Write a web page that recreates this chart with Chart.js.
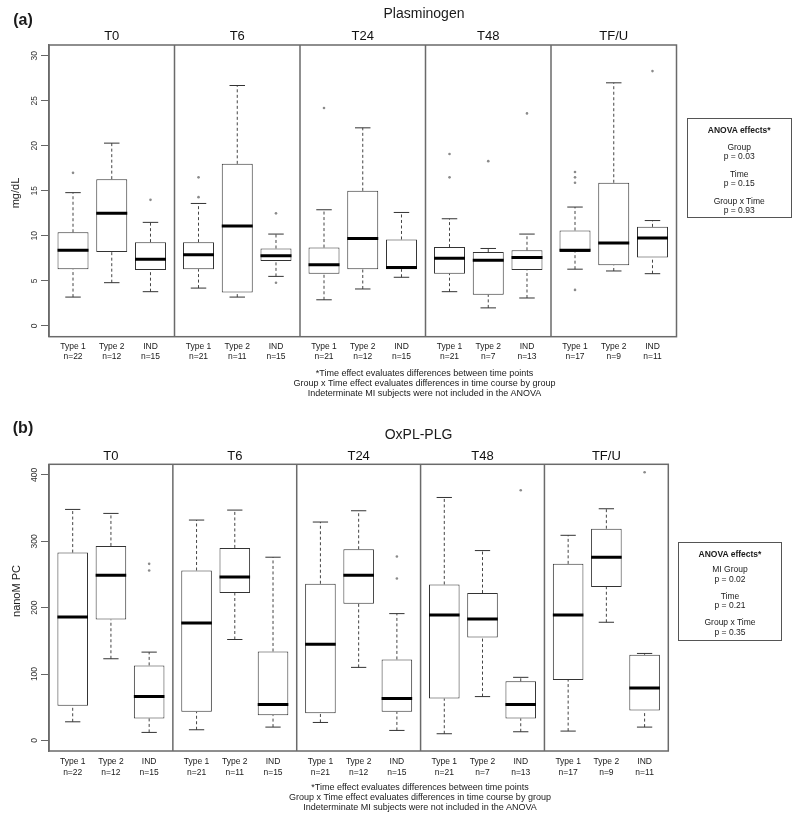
<!DOCTYPE html>
<html><head><meta charset="utf-8">
<script src="https://cdn.jsdelivr.net/npm/chart.js@4.4.1/dist/chart.umd.min.js"></script>
<style>
body{margin:0;background:#fff;}
#wrap{position:relative;width:800px;height:820px;background:#fff;overflow:hidden;font-family:"Liberation Sans",Arial,sans-serif;color:#1a1a1a;}
canvas{position:absolute;left:0;}
.t{position:absolute;white-space:nowrap;transform:translate(-50%,-50%);line-height:1;}
.rot{transform:translate(-50%,-50%) rotate(-90deg);}
.box{position:absolute;border:1px solid #555;box-sizing:border-box;}
.fn{font-size:9px;}
.an{font-size:8.5px;}
</style></head>
<body><div id="wrap">
<canvas id="cA" width="800" height="400" style="top:0"></canvas>
<canvas id="cB" width="800" height="420" style="top:400px"></canvas>

<div class="t" style="left:23px;top:19.5px;font-size:16px;font-weight:bold">(a)</div>
<div class="t" style="left:424px;top:13px;font-size:14px">Plasminogen</div>
<div class="t rot" style="left:15px;top:193px;font-size:11px">mg/dL</div>
<div class="t fn" style="left:424.5px;top:372.7px">*Time effect evaluates differences between time points</div>
<div class="t fn" style="left:424.5px;top:383.3px">Group x Time effect evaluates differences in time course by group</div>
<div class="t fn" style="left:424.5px;top:393.3px">Indeterminate MI subjects were not included in the ANOVA</div>
<div class="box" style="left:686.7px;top:118.3px;width:105px;height:99.4px">
  <div class="t an" style="left:51.5px;top:10.7px;font-weight:bold">ANOVA effects*</div>
  <div class="t an" style="left:51.5px;top:27.7px">Group</div>
  <div class="t an" style="left:51.5px;top:36.7px">p = 0.03</div>
  <div class="t an" style="left:51.5px;top:54.7px">Time</div>
  <div class="t an" style="left:51.5px;top:63.7px">p = 0.15</div>
  <div class="t an" style="left:51.5px;top:81.7px">Group x Time</div>
  <div class="t an" style="left:51.5px;top:91px">p = 0.93</div>
</div>

<div class="t" style="left:23px;top:428px;font-size:16px;font-weight:bold">(b)</div>
<div class="t" style="left:418.5px;top:433.5px;font-size:14px">OxPL-PLG</div>
<div class="t rot" style="left:16px;top:591px;font-size:11px">nanoM PC</div>
<div class="t fn" style="left:420px;top:786.7px">*Time effect evaluates differences between time points</div>
<div class="t fn" style="left:420px;top:797.3px">Group x Time effect evaluates differences in time course by group</div>
<div class="t fn" style="left:420px;top:807.3px">Indeterminate MI subjects were not included in the ANOVA</div>
<div class="box" style="left:678.3px;top:541.7px;width:103.4px;height:99px">
  <div class="t an" style="left:50.7px;top:11px;font-weight:bold">ANOVA effects*</div>
  <div class="t an" style="left:50.7px;top:26.6px">MI Group</div>
  <div class="t an" style="left:50.7px;top:36.3px">p = 0.02</div>
  <div class="t an" style="left:50.7px;top:53.3px">Time</div>
  <div class="t an" style="left:50.7px;top:62.3px">p = 0.21</div>
  <div class="t an" style="left:50.7px;top:79.3px">Group x Time</div>
  <div class="t an" style="left:50.7px;top:89.3px">p = 0.35</div>
</div>
</div>
<script>
// ---- categories ----
const timepoints = ['T0','T6','T24','T48','TF/U'];
const groups = ['Type 1','Type 2','IND'];
// group sizes, order: T0[Type1,Type2,IND], T6[...], T24, T48, TF/U
const nA = [22,12,15, 21,11,15, 21,12,15, 21,7,13, 17,9,11];
const nB = [22,12,15, 21,11,15, 21,12,15, 21,7,13, 17,9,11];

// ---- (a) Plasminogen, mg/dL ----
const plgLow  = [3.2,4.8,3.8,  4.2,3.2,5.5,  2.9,4.1,5.4,  3.8,2.0,3.1,   6.3,6.1,5.8];
const plgQ1   = [6.3,8.2,6.2,  6.3,3.7,7.2,  5.8,6.3,6.3,  5.8,3.45,6.2,  8.2,6.75,7.6];
const plgMed  = [8.4,12.5,7.4, 7.9,11.1,7.8, 6.8,9.7,6.5,  7.5,7.3,7.6,   8.4,9.2,9.75];
const plgQ3   = [10.4,16.3,9.3, 9.3,18.0,8.6, 8.7,15.0,9.6, 8.75,8.2,8.4, 10.6,15.9,11.0];
const plgHigh = [14.8,20.3,11.5, 13.6,26.7,10.2, 12.9,22.0,12.6, 11.9,8.6,10.2, 13.2,27.0,11.7];
const plgOutBox = [0,2,3,3,5,5,6,9,9,10,11,12,12,12,12,14];
const plgOutVal = [17.0,14.0,16.5,14.3,12.5,4.8,24.2,19.1,16.5,18.3,23.6,17.1,16.5,15.9,4.0,28.3];
const yTicksA = [0,5,10,15,20,25,30];

// ---- (b) OxPL-PLG, nanoM PC ----
const oxLow  = [28,123,12,  16,152,20,  27,110,15,  10,66,13,  14,178,20];
const oxQ1   = [52,182,33,  43,222,38,  41,206,43,  63,155,33, 91,231,45];
const oxMed  = [186,249,66, 177,246,54, 145,249,63, 189,183,54, 189,276,79];
const oxQ3   = [283,293,113, 256,290,134, 236,288,122, 235,222,89, 266,319,129];
const oxHigh = [348,342,133, 332,347,276, 329,346,191, 366,286,95, 309,349,131];
const oxOutBox = [2,2,8,8,11,14];
const oxOutVal = [266,256,277,244,377,404];
const yTicksB = [0,100,200,300,400];

// each facet spans 0.38..3.62 (R boxplot default), groups at 1,2,3
const SPAN = 3.24, OFF = 0.62;
const pos = i => Math.floor(i/3)*SPAN + (i%3) + OFF;

const framePlugin = {
  id:'frame',
  afterDatasetsDraw(chart){
    const {ctx, chartArea:a, scales:{x}} = chart;
    ctx.save();
    ctx.strokeStyle = '#6a6a6a'; ctx.lineWidth = 1.5;
    ctx.strokeRect(a.left, a.top, a.right-a.left, a.bottom-a.top);
    for (let k=1;k<timepoints.length;k++){
      const px = x.getPixelForValue(k*SPAN);
      ctx.beginPath(); ctx.moveTo(px,a.top); ctx.lineTo(px,a.bottom); ctx.stroke();
    }
    ctx.restore();
  }
};

Chart.defaults.font.family = '"Liberation Sans", Arial, sans-serif';

function makeChart(id, c){
  const boxes = c.q1.map((v,i)=>({x:pos(i), y:[v, c.q3[i]]}));
  const whisk = [], caps = [], meds = [];
  c.q1.forEach((v,i)=>{
    const x = pos(i);
    whisk.push({x,y:c.q3[i]},{x,y:c.high[i]},{x,y:null},{x,y:c.low[i]},{x,y:v},{x,y:null});
    caps.push({x:x-0.2,y:c.high[i]},{x:x+0.2,y:c.high[i]},{x,y:null},{x:x-0.2,y:c.low[i]},{x:x+0.2,y:c.low[i]},{x,y:null});
    meds.push({x:x-0.4,y:c.med[i]},{x:x+0.4,y:c.med[i]},{x,y:null});
  });
  const outs = c.outVal.map((v,j)=>({x:pos(c.outBox[j]), y:v}));
  return new Chart(document.getElementById(id), {
    type:'scatter',
    data:{datasets:[
      {type:'scatter', label:'outliers', data:outs, showLine:false, pointRadius:1.3, pointBackgroundColor:'#8a8a8a', pointBorderWidth:0, order:0},
      {type:'scatter', label:'median', data:meds, showLine:true, spanGaps:false, borderColor:'#000', borderWidth:3, borderCapStyle:'butt', pointRadius:0, order:1},
      {type:'scatter', label:'caps', data:caps, showLine:true, spanGaps:false, borderColor:'#333', borderWidth:1, pointRadius:0, order:2},
      {type:'bar', label:'box', data:boxes, backgroundColor:'#fff', borderColor:'#333', borderWidth:1, borderSkipped:false, barPercentage:0.8, categoryPercentage:1, order:3},
      {type:'scatter', label:'whiskers', data:whisk, showLine:true, spanGaps:false, borderColor:'#444', borderWidth:1, borderDash:[3,2.5], pointRadius:0, order:4}
    ]},
    options:{
      responsive:false, animation:false, devicePixelRatio:1, events:[],
      layout:{padding:{left:0,top:0,right:c.padRight,bottom:0}},
      plugins:{legend:{display:false}, tooltip:{enabled:false}},
      scales:{
        x:{type:'linear', position:'bottom', min:0, max:timepoints.length*SPAN, offset:false,
          afterBuildTicks:s=>{ s.ticks = c.q1.map((v,i)=>({value:pos(i)})); },
          afterFit:s=>{ s.height = c.bottomH; },
          grid:{display:false, drawTicks:false}, border:{display:false},
          ticks:{autoSkip:false, minRotation:0, maxRotation:0, padding:c.xPad, color:'#1a1a1a',
            font:{size:8.5, lineHeight:1.2},
            callback:(v,i)=>[groups[i%3], 'n='+c.n[i]]}},
        xTop:{type:'linear', axis:'x', position:'top', min:0, max:timepoints.length*SPAN, offset:false,
          afterBuildTicks:s=>{ s.ticks = timepoints.map((t,k)=>({value:k*SPAN+SPAN/2})); },
          afterFit:s=>{ s.height = c.topH; },
          grid:{display:false, drawTicks:false}, border:{display:false},
          ticks:{autoSkip:false, minRotation:0, maxRotation:0, padding:c.topPad, color:'#111',
            font:{size:13, lineHeight:1.2}, callback:(v,i)=>timepoints[i]}},
        y:{type:'linear', position:'left', min:c.yMin, max:c.yMax,
          afterBuildTicks:s=>{ s.ticks = c.yTicks.map(v=>({value:v})); },
          afterFit:s=>{ s.width = 49; },
          grid:{display:true, drawOnChartArea:false, drawTicks:true, tickLength:8, color:'#666', lineWidth:1},
          border:{display:true, color:'#6a6a6a', width:1.5},
          ticks:{autoSkip:false, minRotation:90, maxRotation:90, crossAlign:'center', padding:c.yPad,
            color:'#333', font:{size:8.5}}}
      }
    },
    plugins:[framePlugin]
  });
}

makeChart('cA', {low:plgLow, q1:plgQ1, med:plgMed, q3:plgQ3, high:plgHigh,
  outBox:plgOutBox, outVal:plgOutVal, n:nA, yMin:-1.2, yMax:31.2, yTicks:yTicksA,
  padRight:123.5, topH:45, bottomH:63.3, xPad:4.9, topPad:1.2, yPad:1.3});
makeChart('cB', {low:oxLow, q1:oxQ1, med:oxMed, q3:oxQ3, high:oxHigh,
  outBox:oxOutBox, outVal:oxOutVal, n:nB, yMin:-16, yMax:416, yTicks:yTicksB,
  padRight:131.7, topH:64.3, bottomH:69, xPad:5.9, topPad:0.5, yPad:-1});
</script>
</body></html>
